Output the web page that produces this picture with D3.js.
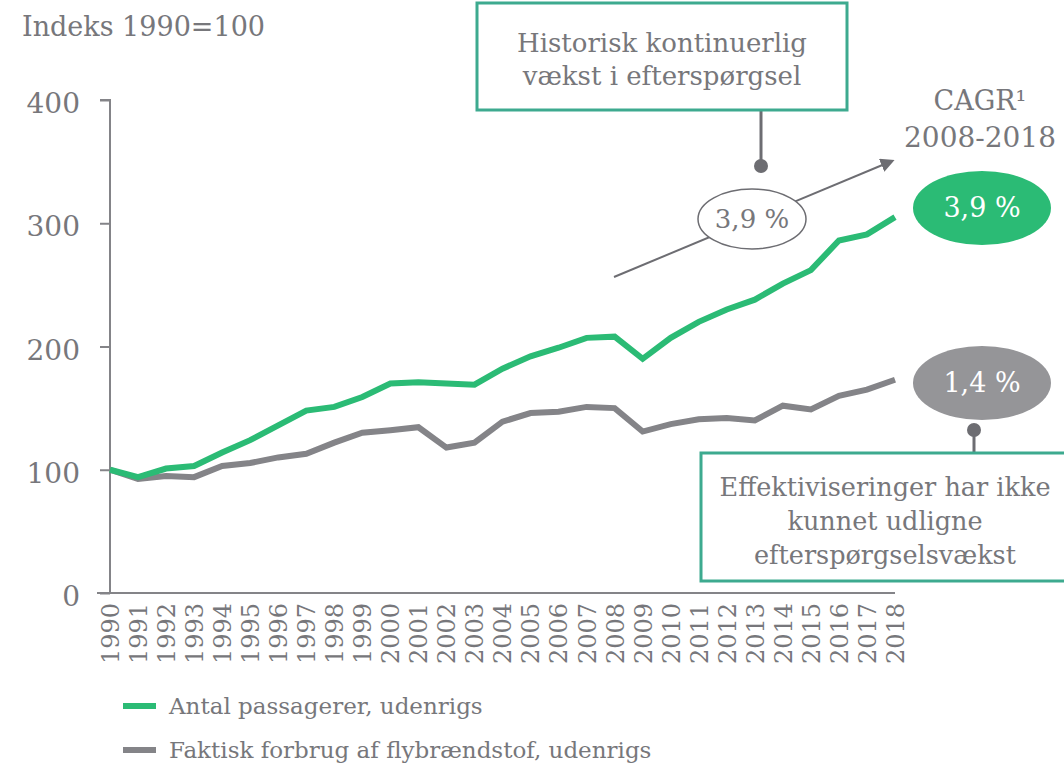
<!DOCTYPE html>
<html>
<head>
<meta charset="utf-8">
<script src="https://cdn.jsdelivr.net/npm/d3@7"></script>
<style>
  body { margin: 0; background: #fff; }
  svg text { font-family: "DejaVu Serif", "Liberation Serif", serif; fill: #77777b; }
</style>
</head>
<body>
<svg id="chart" width="1064" height="765"></svg>
<script>
// data
var years = [1990, 1991, 1992, 1993, 1994, 1995, 1996, 1997, 1998, 1999,
             2000, 2001, 2002, 2003, 2004, 2005, 2006, 2007, 2008, 2009,
             2010, 2011, 2012, 2013, 2014, 2015, 2016, 2017, 2018];
var passengers = [100, 94, 101, 103, 114, 124, 136, 148, 151, 159,
                  170, 171, 170, 169, 182, 192, 199, 207, 208, 190,
                  207, 220, 230, 238, 251, 262, 286, 291, 305];
var fuel = [100, 92.5, 95, 94, 103, 105.5, 110, 113, 122, 130,
            132, 134.5, 118, 122, 139, 146, 147, 151, 150, 131,
            137, 141, 142, 140, 152, 149, 160, 165, 173];
var yTicks = [0, 100, 200, 300, 400];
var seriesNames = ["Antal passagerer, udenrigs", "Faktisk forbrug af flybrændstof, udenrigs"];
var cagrValues = ["3,9 %", "1,4 %"];

var green = "#2bbb75";
var grey = "#848488";
var dark = "#6d6d72";
var teal = "#3daa8f";

var svg = d3.select("#chart");

var x = d3.scalePoint()
    .domain(years)
    .range([110, 895]);

var y = d3.scaleLinear()
    .domain([0, 400])
    .range([593, 100]);

// y axis
var yAxis = d3.axisLeft(y)
    .tickValues(yTicks)
    .tickSize(10)
    .tickFormat(d3.format("d"));

var gy = svg.append("g")
    .attr("transform", "translate(110,0)")
    .call(yAxis);
gy.select(".domain").attr("stroke", grey).attr("stroke-width", 2).attr("d", "M-10,100H0V593");
gy.selectAll(".tick line").attr("stroke", grey).attr("stroke-width", 2);
gy.selectAll(".tick text")
    .attr("x", -30)
    .attr("dy", "0.45em")
    .style("font-size", "28px")
    .attr("fill", "#77777b");

// x axis
var xAxis = d3.axisBottom(x).tickSize(0);
var gx = svg.append("g")
    .attr("transform", "translate(0,593)")
    .call(xAxis);
gx.select(".domain").attr("stroke", grey).attr("stroke-width", 2).attr("d", "M97,0H895");
gx.selectAll(".tick text")
    .attr("transform", "rotate(-90)")
    .attr("x", -10)
    .attr("y", 0)
    .attr("dy", "0.35em")
    .style("text-anchor", "end")
    .style("font-size", "24px")
    .attr("fill", "#77777b");

// lines
var line = d3.line()
    .x(function(d, i) { return x(years[i]); })
    .y(function(d) { return y(d); });

svg.append("path")
    .datum(fuel)
    .attr("fill", "none")
    .attr("stroke", grey)
    .attr("stroke-width", 6)
    .attr("d", line);

svg.append("path")
    .datum(passengers)
    .attr("fill", "none")
    .attr("stroke", green)
    .attr("stroke-width", 6)
    .attr("d", line);

// axis title
svg.append("text")
    .attr("x", 22)
    .attr("y", 36)
    .style("font-size", "27px")
    .text("Indeks 1990=100");

// top annotation box
svg.append("line")
    .attr("x1", 761).attr("y1", 110).attr("x2", 761).attr("y2", 166)
    .attr("stroke", dark).attr("stroke-width", 3);
svg.append("circle")
    .attr("cx", 761).attr("cy", 166).attr("r", 7)
    .attr("fill", dark);
svg.append("rect")
    .attr("x", 477).attr("y", 3).attr("width", 370).attr("height", 107)
    .attr("fill", "#fff").attr("stroke", teal).attr("stroke-width", 3);
svg.append("text")
    .attr("x", 662).attr("y", 52)
    .attr("text-anchor", "middle")
    .style("font-size", "26px")
    .attr("fill", "#55555a")
    .text("Historisk kontinuerlig");
svg.append("text")
    .attr("x", 662).attr("y", 85)
    .attr("text-anchor", "middle")
    .style("font-size", "26px")
    .attr("fill", "#55555a")
    .text("vækst i efterspørgsel");

// trend arrow
svg.append("defs").append("marker")
    .attr("id", "arrow")
    .attr("viewBox", "0 0 10 10")
    .attr("refX", 8).attr("refY", 5)
    .attr("markerWidth", 7).attr("markerHeight", 7)
    .attr("orient", "auto")
    .append("path")
    .attr("d", "M0,0L10,5L0,10z")
    .attr("fill", dark);
svg.append("line")
    .attr("x1", 614).attr("y1", 277).attr("x2", 892).attr("y2", 161)
    .attr("stroke", dark).attr("stroke-width", 2)
    .attr("marker-end", "url(#arrow)");

svg.append("ellipse")
    .attr("cx", 752).attr("cy", 219).attr("rx", 54).attr("ry", 30)
    .attr("fill", "#fff").attr("stroke", dark).attr("stroke-width", 1.5);
svg.append("text")
    .attr("x", 752).attr("y", 228)
    .attr("text-anchor", "middle")
    .style("font-size", "26px")
    .attr("fill", "#77777b")
    .text(cagrValues[0]);

// CAGR header
svg.append("text")
    .attr("x", 980).attr("y", 110)
    .attr("text-anchor", "middle")
    .style("font-size", "27px")
    .text("CAGR\u00b9");
svg.append("text")
    .attr("x", 980).attr("y", 147)
    .attr("text-anchor", "middle")
    .style("font-size", "28px")
    .text("2008-2018");

// CAGR badges
var badges = [
    { cy: 208, fill: green, text: cagrValues[0] },
    { cy: 383, fill: "#959598", text: cagrValues[1] }
];
badges.forEach(function(b) {
    svg.append("ellipse")
        .attr("cx", 982).attr("cy", b.cy).attr("rx", 69).attr("ry", 37)
        .attr("fill", b.fill);
    svg.append("text")
        .attr("x", 982).attr("y", b.cy + 9)
        .attr("text-anchor", "middle")
        .style("font-size", "27px")
        .style("fill", "#fff")
        .text(b.text);
});

// bottom annotation box
svg.append("line")
    .attr("x1", 974).attr("y1", 430).attr("x2", 974).attr("y2", 453)
    .attr("stroke", dark).attr("stroke-width", 3);
svg.append("circle")
    .attr("cx", 974).attr("cy", 430).attr("r", 7)
    .attr("fill", dark);
svg.append("rect")
    .attr("x", 701).attr("y", 453).attr("width", 380).attr("height", 128)
    .attr("fill", "#fff").attr("stroke", teal).attr("stroke-width", 3);
var boxLines = ["Effektiviseringer har ikke", "kunnet udligne", "efterspørgselsvækst"];
svg.selectAll(".boxline")
    .data(boxLines)
    .enter()
    .append("text")
    .attr("class", "boxline")
    .attr("x", 885)
    .attr("y", function(d, i) { return 496 + i * 34; })
    .attr("text-anchor", "middle")
    .style("font-size", "25.5px")
    .attr("fill", "#55555a")
    .text(function(d) { return d; });

// legend
var legendColours = [green, grey];
var legend = svg.selectAll(".legend")
    .data(seriesNames)
    .enter()
    .append("g")
    .attr("class", "legend")
    .attr("transform", function(d, i) { return "translate(123," + (706 + i * 44) + ")"; });
legend.append("line")
    .attr("x1", 0).attr("x2", 33)
    .attr("stroke", function(d, i) { return legendColours[i]; })
    .attr("stroke-width", 6);
legend.append("text")
    .attr("x", 46)
    .attr("dy", "0.35em")
    .style("font-size", "23px")
    .text(function(d) { return d; });
</script>
</body>
</html>
